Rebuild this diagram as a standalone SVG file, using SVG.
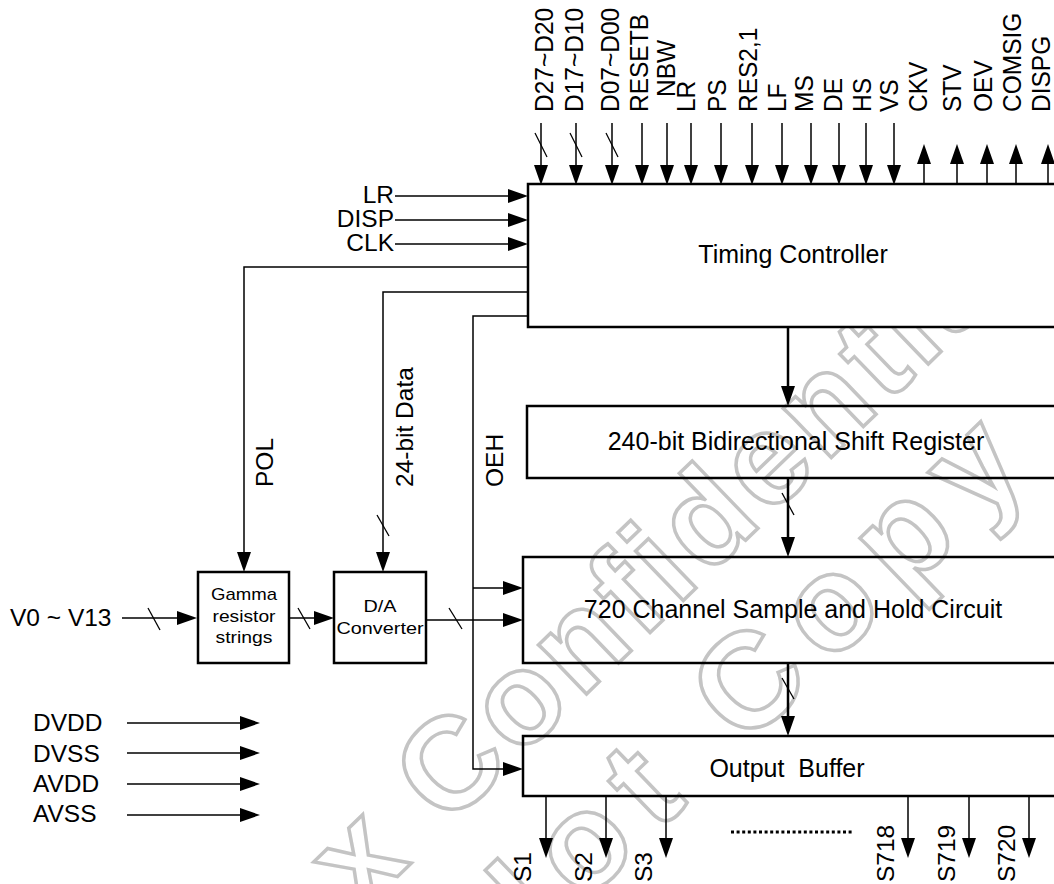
<svg xmlns="http://www.w3.org/2000/svg" width="1054" height="884" viewBox="0 0 1054 884">
<style>
.t{font-family:"Liberation Sans",Arial,sans-serif;font-size:25px;fill:#000}
.lb{font-family:"Liberation Sans",Arial,sans-serif;font-size:24.5px;fill:#000}
.sm{font-family:"Liberation Sans",Arial,sans-serif;font-size:17px;fill:#000}
.box{fill:none;stroke:#000;stroke-width:2.5}
.wbox{fill:#fff;stroke:#000;stroke-width:2.5}
.ln{fill:none;stroke:#000;stroke-width:1.5}
.lnb{fill:none;stroke:#000;stroke-width:2.5}
.arr{marker-end:url(#ah)}
.sl{stroke:#000;stroke-width:1.3}
.wm{font-family:"Liberation Sans",Arial,sans-serif;font-weight:bold;fill:none;stroke:#c4c4c4;stroke-width:3.5}
</style>
<defs>
<marker id="ah" markerUnits="userSpaceOnUse" markerWidth="20" markerHeight="14" viewBox="0 0 20 14" refX="12" refY="7" orient="auto">
<path d="M0,0 L20,7 L0,14 z" fill="#000"/>
</marker>
</defs>
<rect width="1054" height="884" fill="#fff"/>

<g id="watermark" class="wm">
<text transform="translate(360,912.7) rotate(-44)" font-size="130" letter-spacing="6">x Confidential</text>
<text transform="translate(498.5,986.4) rotate(-44)" font-size="135" letter-spacing="20">Not Copy</text>
</g>

<g id="connectors">
<path class="ln arr" d="M541,123V177"/>
<path class="ln arr" d="M576,123V177"/>
<path class="ln arr" d="M612,123V177"/>
<path class="ln arr" d="M642,123V177"/>
<path class="ln arr" d="M667,123V177"/>
<path class="ln arr" d="M691,123V177"/>
<path class="ln arr" d="M721,123V177"/>
<path class="ln arr" d="M752,123V177"/>
<path class="ln arr" d="M782,123V177"/>
<path class="ln arr" d="M811,123V177"/>
<path class="ln arr" d="M839,123V177"/>
<path class="ln arr" d="M866,123V177"/>
<path class="ln arr" d="M894,123V177"/>
<line class="sl" x1="535" y1="133" x2="547" y2="157"/>
<line class="sl" x1="570" y1="133" x2="582" y2="157"/>
<line class="sl" x1="606" y1="133" x2="618" y2="157"/>
<path class="ln arr" d="M924,185V152"/>
<path class="ln arr" d="M957,185V152"/>
<path class="ln arr" d="M987,185V152"/>
<path class="ln arr" d="M1016,185V152"/>
<path class="ln arr" d="M1048,185V152"/>
<path class="ln arr" d="M395,196H520"/>
<path class="ln arr" d="M395,220H520"/>
<path class="ln arr" d="M395,244H520"/>
<path class="ln arr" d="M528,267H244V564"/>
<path class="ln arr" d="M528,292H383V564"/>
<line class="sl" x1="377" y1="515" x2="389" y2="536"/>
<path class="ln arr" d="M528,316H473V769H515"/>
<path class="ln arr" d="M473,588H515"/>
<path class="ln arr" d="M122,618H189"/>
<line class="sl" x1="148" y1="608" x2="160" y2="630"/>
<path class="ln arr" d="M289,618H326"/>
<line class="sl" x1="298" y1="608" x2="310" y2="629"/>
<path class="ln arr" d="M426,620H515"/>
<line class="sl" x1="449" y1="608" x2="462" y2="629"/>
<path class="lnb arr" d="M788,327V398"/>
<path class="lnb arr" d="M788,478V549"/>
<line class="sl" x1="782" y1="493" x2="794" y2="515"/>
<path class="lnb arr" d="M788,663V728"/>
<line class="sl" x1="782" y1="678" x2="794" y2="699"/>
<path class="ln arr" d="M546,796V850"/>
<path class="ln arr" d="M606,796V850"/>
<path class="ln arr" d="M666,796V850"/>
<path class="ln arr" d="M908,796V850"/>
<path class="ln arr" d="M969,796V850"/>
<path class="ln arr" d="M1029,796V850"/>
<line x1="731" y1="832" x2="854" y2="832" stroke="#000" stroke-width="3" stroke-dasharray="3 2.6"/>
<path class="ln arr" d="M127,723H252"/>
<path class="ln arr" d="M127,753H252"/>
<path class="ln arr" d="M127,784H252"/>
<path class="ln arr" d="M127,815H252"/>
</g>

<g id="timing-controller">
<rect class="wbox" x="528" y="184" width="540" height="143"/>
<text class="t" x="793" y="263" text-anchor="middle">Timing Controller</text>
</g>
<g id="shift-register">
<rect class="box" x="527" y="406" width="540" height="72"/>
<text class="t" x="796" y="450" text-anchor="middle">240-bit Bidirectional Shift Register</text>
</g>
<g id="sample-hold">
<rect class="box" x="523" y="557" width="545" height="106"/>
<text class="t" x="793" y="618" text-anchor="middle">720 Channel Sample and Hold Circuit</text>
</g>
<g id="output-buffer">
<rect class="box" x="523" y="736" width="545" height="60"/>
<text class="t" x="787" y="777" text-anchor="middle" style="white-space:pre">Output  Buffer</text>
</g>
<g id="gamma">
<rect class="box" x="198" y="572" width="91" height="91"/>
<text class="sm" x="244" y="600" text-anchor="middle" textLength="66" lengthAdjust="spacingAndGlyphs">Gamma</text>
<text class="sm" x="244" y="622" text-anchor="middle" textLength="63" lengthAdjust="spacingAndGlyphs">resistor</text>
<text class="sm" x="244" y="643" text-anchor="middle" textLength="57" lengthAdjust="spacingAndGlyphs">strings</text>
</g>
<g id="dac">
<rect class="box" x="334" y="572" width="92" height="91"/>
<text class="sm" x="380" y="612" text-anchor="middle" textLength="33" lengthAdjust="spacingAndGlyphs">D/A</text>
<text class="sm" x="380" y="634" text-anchor="middle" textLength="87" lengthAdjust="spacingAndGlyphs">Converter</text>
</g>

<g id="labels" class="lb">
<text transform="translate(553,112) rotate(-90) scale(1,1.08)">D27~D20</text>
<text transform="translate(583,112) rotate(-90) scale(1,1.08)">D17~D10</text>
<text transform="translate(619,112) rotate(-90) scale(1,1.08)">D07~D00</text>
<text transform="translate(648,112) rotate(-90) scale(1,1.08)">RESETB</text>
<text transform="translate(675,97) rotate(-90) scale(1,1.08)">NBW</text>
<text transform="translate(695,112) rotate(-90) scale(1,1.08)">LR</text>
<text transform="translate(726,112) rotate(-90) scale(1,1.08)">PS</text>
<text transform="translate(757,112) rotate(-90) scale(1,1.08)">RES2,1</text>
<text transform="translate(786,112) rotate(-90) scale(1,1.08)">LF</text>
<text transform="translate(813,112) rotate(-90) scale(1,1.08)">MS</text>
<text transform="translate(842,112) rotate(-90) scale(1,1.08)">DE</text>
<text transform="translate(871,112) rotate(-90) scale(1,1.08)">HS</text>
<text transform="translate(898,112) rotate(-90) scale(1,1.08)">VS</text>
<text transform="translate(927,112) rotate(-90) scale(1,1.08)">CKV</text>
<text transform="translate(961,112) rotate(-90) scale(1,1.08)">STV</text>
<text transform="translate(992,112) rotate(-90) scale(1,1.08)">OEV</text>
<text transform="translate(1021,112) rotate(-90) scale(1,1.08)">COMSIG</text>
<text transform="translate(1050,112) rotate(-90) scale(1,1.08)">DISPG</text>
<text x="394" y="203" text-anchor="end">LR</text>
<text x="394" y="227" text-anchor="end">DISP</text>
<text x="394" y="251" text-anchor="end">CLK</text>
<text transform="translate(273,487) rotate(-90)">POL</text>
<text transform="translate(413,487) rotate(-90)">24-bit Data</text>
<text transform="translate(503,487) rotate(-90)">OEH</text>
<text x="10" y="626">V0 ~ V13</text>
<text x="33" y="731">DVDD</text>
<text x="33" y="762">DVSS</text>
<text x="33" y="792">AVDD</text>
<text x="33" y="822">AVSS</text>
<text transform="translate(531,882) rotate(-90)">S1</text>
<text transform="translate(592,882) rotate(-90)">S2</text>
<text transform="translate(652,882) rotate(-90)">S3</text>
<text transform="translate(894,882) rotate(-90)">S718</text>
<text transform="translate(955,882) rotate(-90)">S719</text>
<text transform="translate(1015,882) rotate(-90)">S720</text>
</g>
</svg>
